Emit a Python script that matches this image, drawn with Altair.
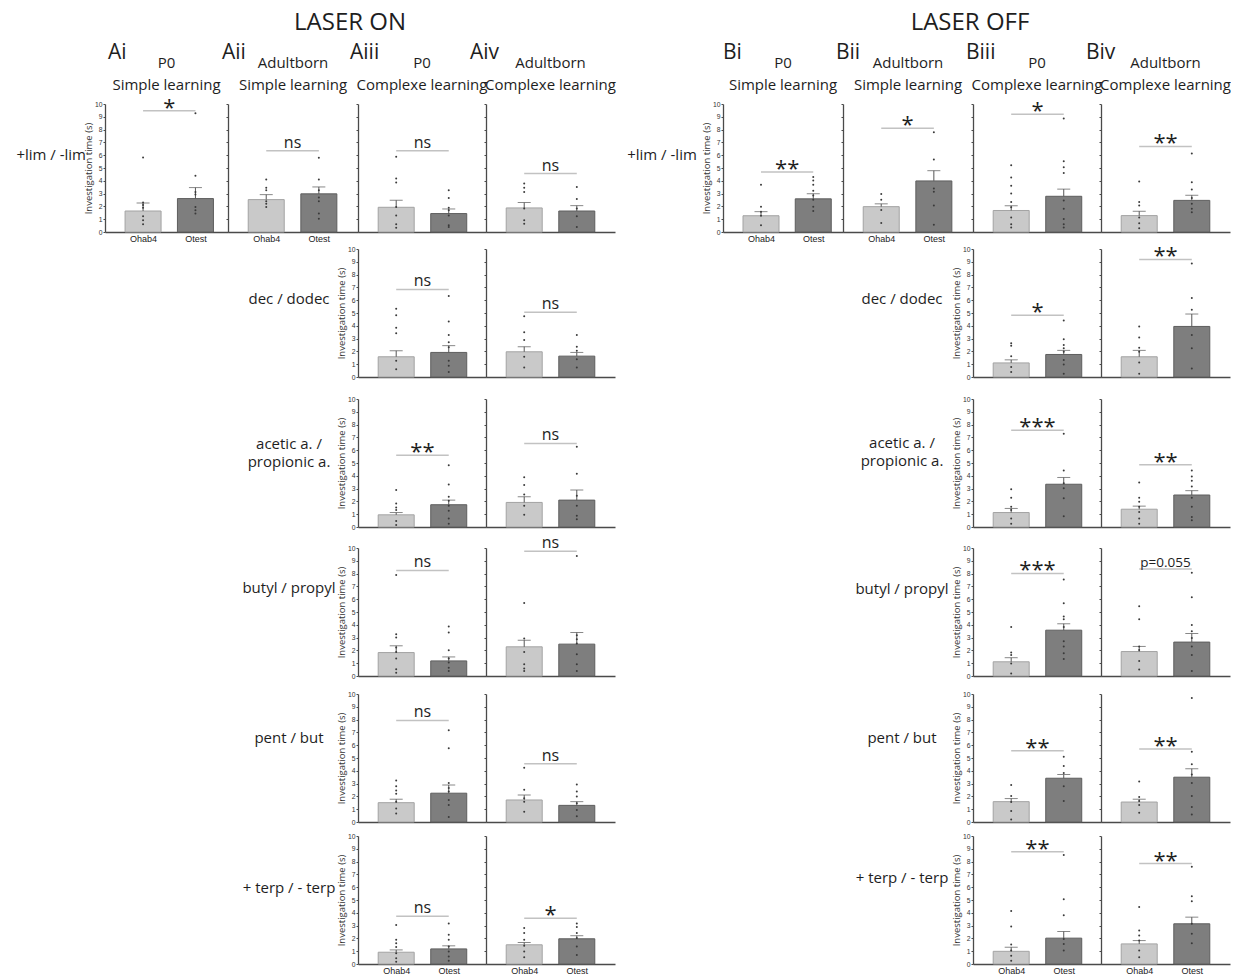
import altair as alt
import pandas as pd

# ---------------- data ----------------
groups = ["Ohab4", "Otest"]
columns = ["Ai", "Aii", "Aiii", "Aiv", "Bi", "Bii", "Biii", "Biv"]
cohorts = ["P0", "Adultborn", "P0", "Adultborn", "P0", "Adultborn", "P0", "Adultborn"]
tasks = ["Simple learning", "Simple learning", "Complexe learning", "Complexe learning",
         "Simple learning", "Simple learning", "Complexe learning", "Complexe learning"]
halves = ["LASER ON", "LASER OFF"]
odors = [["+lim / -lim"], ["dec / dodec"], ["acetic a. /", "propionic a."],
         ["butyl / propyl"], ["pent / but"], ["+ terp / - terp"]]
y_title = "Investigation time (s)"
N = None

# rows = odor pairs, columns = Ai, Aii, Aiii, Aiv, Bi, Bii, Biii, Biv
ohab4_mean = [
    [1.64, 2.53, 1.93, 1.88, 1.27, 1.98, 1.68, 1.28],
    [N, N, 1.58, 1.97, N, N, 1.10, 1.58],
    [N, N, 0.95, 1.92, N, N, 1.13, 1.39],
    [N, N, 1.83, 2.28, N, N, 1.11, 1.91],
    [N, N, 1.51, 1.72, N, N, 1.59, 1.56],
    [N, N, 0.92, 1.50, N, N, 0.99, 1.57],
]
ohab4_sem = [
    [0.63, 0.39, 0.55, 0.42, 0.32, 0.22, 0.37, 0.34],
    [N, N, 0.47, 0.40, N, N, 0.24, 0.50],
    [N, N, 0.18, 0.45, N, N, 0.32, 0.24],
    [N, N, 0.53, 0.52, N, N, 0.32, 0.40],
    [N, N, 0.27, 0.38, N, N, 0.24, 0.22],
    [N, N, 0.18, 0.18, N, N, 0.32, 0.26],
]
otest_mean = [
    [2.61, 2.98, 1.44, 1.64, 2.59, 3.99, 2.79, 2.47],
    [N, N, 1.92, 1.63, N, N, 1.76, 3.95],
    [N, N, 1.74, 2.10, N, N, 3.34, 2.50],
    [N, N, 1.18, 2.49, N, N, 3.58, 2.65],
    [N, N, 2.25, 1.30, N, N, 3.42, 3.50],
    [N, N, 1.18, 1.97, N, N, 2.02, 3.14],
]
otest_sem = [
    [0.86, 0.54, 0.36, 0.42, 0.40, 0.80, 0.56, 0.40],
    [N, N, 0.53, 0.29, N, N, 0.32, 0.97],
    [N, N, 0.36, 0.79, N, N, 0.53, 0.34],
    [N, N, 0.31, 0.91, N, N, 0.50, 0.67],
    [N, N, 0.64, 0.29, N, N, 0.29, 0.66],
    [N, N, 0.24, 0.24, N, N, 0.52, 0.52],
]
sig_label = [
    ["*", "ns", "ns", "ns", "**", "*", "*", "**"],
    [N, N, "ns", "ns", N, N, "*", "**"],
    [N, N, "**", "ns", N, N, "***", "**"],
    [N, N, "ns", "ns", N, N, "***", "p=0.055"],
    [N, N, "ns", "ns", N, N, "**", "**"],
    [N, N, "ns", "*", N, N, "**", "**"],
]
sig_y = [
    [9.48, 6.34, 6.34, 4.57, 4.68, 8.10, 9.20, 6.68],
    [N, N, 6.84, 5.05, N, N, 4.82, 9.18],
    [N, N, 5.60, 6.53, N, N, 7.55, 4.87],
    [N, N, 8.25, 9.74, N, N, 8.01, 8.36],
    [N, N, 7.93, 4.56, N, N, 5.57, 5.70],
    [N, N, 3.74, 3.58, N, N, 8.77, 7.85],
]
ohab4_dots = [
    [[5.82, 2.3, 2.1, 1.9, 1.23, 0.91, 0.6], [4.1, 3.45, 3.26, 2.4, 2.2, 1.96],
     [5.87, 4.18, 3.86, 1.96, 1.28, 0.6, 0.34], [3.79, 3.45, 3.13, 1.83, 0.91, 0.65],
     [3.7, 1.98, 1.59, 1.27, 0.53], [2.96, 2.51, 1.72, 0.71],
     [5.21, 4.26, 3.62, 3.0, 2.34, 1.94, 1.14, 0.61, 0.35], [3.94, 2.34, 2.07, 1.14, 0.69, 0.29]],
    [N, N, [5.34, 4.82, 3.84, 3.42, 1.26, 0.6], [4.74, 3.5, 2.89, 1.58, 0.74],
     N, N, [2.63, 2.45, 1.63, 0.79, 0.39], [3.95, 3.08, 2.29, 1.97, 1.13, 0.26]],
    [N, N, [2.89, 1.84, 1.53, 1.32, 0.47, 0.16], [3.89, 3.29, 2.53, 1.66, 0.95],
     N, N, [2.95, 2.29, 1.58, 1.32, 0.66, 0.26], [3.47, 2.29, 1.97, 1.58, 1.18, 0.66, 0.26]],
    [N, N, [7.9, 3.27, 3.01, 2.23, 1.88, 1.36, 0.52, 0.26], [5.71, 2.93, 1.88, 0.92, 0.58, 0.39],
     N, N, [3.82, 1.83, 1.64, 0.98, 0.19], [5.44, 4.43, 2.31, 2.04, 1.17, 0.5]],
    [N, N, [3.24, 2.79, 2.47, 2.2, 1.59, 1.06, 0.66], [4.24, 2.52, 1.86, 1.59, 0.8],
     N, N, [2.89, 2.04, 1.56, 0.85, 0.19], [3.16, 1.96, 1.64, 1.33, 0.72]],
    [N, N, [3.05, 1.89, 1.63, 1.32, 0.84, 0.45, 0.18], [2.82, 2.42, 1.89, 1.42, 0.97, 0.53],
     N, N, [4.14, 2.93, 1.52, 1.05, 0.65, 0.26], [4.45, 2.62, 2.23, 1.83, 1.05, 0.52]],
]
otest_dots = [
    [[9.27, 4.39, 3.13, 2.92, 1.96, 1.7, 1.44], [5.8, 4.1, 3.26, 2.69, 2.4, 1.44, 1.04],
     [3.26, 2.66, 1.9, 1.7, 1.28, 0.52, 0.39], [3.52, 2.58, 1.83, 1.23, 0.39],
     [4.29, 4.02, 3.7, 3.23, 2.86, 2.51, 1.98, 1.64], [7.8, 5.66, 3.4, 3.14, 2.07, 0.56],
     [8.86, 5.53, 5.05, 4.6, 2.47, 1.81, 1.01, 0.61, 0.35], [6.14, 3.88, 3.32, 2.66, 2.21, 1.81, 1.54]],
    [N, N, [6.32, 4.34, 3.29, 2.71, 2.32, 1.26, 0.87, 0.39], [3.29, 2.37, 2.05, 1.39, 0.74],
     N, N, [4.42, 2.95, 2.5, 2.24, 1.97, 1.32, 0.97, 0.26], [8.87, 6.18, 5.26, 3.29, 2.24, 0.66]],
    [N, N, [4.82, 3.32, 2.37, 2.05, 1.66, 1.26, 0.66, 0.26], [6.26, 4.16, 2.45, 1.66, 0.87, 0.6],
     N, N, [7.29, 4.42, 3.42, 3.03, 2.24, 0.84], [4.42, 3.95, 3.61, 3.16, 2.29, 1.58, 0.79, 0.53]],
    [N, N, [3.87, 3.4, 2.02, 1.36, 1.05, 0.65, 0.39], [9.37, 3.19, 2.88, 2.54, 1.7, 0.92, 0.39],
     N, N, [7.53, 5.68, 4.64, 4.43, 3.82, 2.71, 2.31, 1.78, 1.33], [8.06, 6.15, 3.98, 3.5, 2.97, 2.31, 1.64, 0.4]],
    [N, N, [7.16, 5.76, 3.05, 2.65, 2.39, 1.72, 1.33, 0.4], [2.92, 2.39, 1.99, 1.46, 0.93, 0.45],
     N, N, [5.09, 4.38, 3.82, 2.79, 1.64], [9.68, 5.49, 4.51, 3.71, 3.05, 2.04, 1.17, 0.58]],
    [N, N, [3.16, 2.29, 1.89, 1.37, 0.97, 0.58, 0.26], [3.16, 2.89, 2.42, 2.03, 1.37, 0.71],
     N, N, [8.51, 5.05, 3.8, 1.96, 1.57, 1.05], [7.59, 5.29, 4.9, 3.14, 2.36, 1.62]],
]

# ---------------- layout / style ----------------
GRID_W = [97, 123, 130, 128, 129, 108, 120, 130, 128, 129]
PANEL_COL = [1, 2, 3, 4, 6, 7, 8, 9]
PANEL_H = 128
HEADER_H = 96
GAPS = [17, 22, 21, 18, 14]
BAR_PX = 57.0          # pixels between the two bar centres
FIRST_PX = 36.0        # pixel offset of the first bar centre
FILL = ["#c9c9c9", "#7e7e7e"]
EDGE = ["#a3a3a3", "#5e5e5e"]
AX = "#4a4a4a"
TXT = "#1e1e1e"
FONT = "Open Sans"

dummy = pd.DataFrame({"k": [0]})


def blank(w, h):
    return alt.Chart(dummy).mark_point(opacity=0, size=1).encode(
        x=alt.value(w / 2), y=alt.value(h / 2)).properties(width=w, height=h)


def text_cell(w, h, items):
    layers = []
    for (t, x, y, size, align) in items:
        layers.append(alt.Chart(dummy).mark_text(
            text=t, fontSize=size, align=align, baseline="middle", font=FONT, color=TXT
        ).encode(x=alt.value(x), y=alt.value(y)))
    return alt.layer(*layers).properties(width=w, height=h)


def panel(r, j, w):
    show_y = (j in (0, 4)) if r == 0 else (j in (2, 6))
    show_x = (r == 0 and j in (0, 1, 4, 5)) or (r == 5 and j in (2, 3, 6, 7))
    m = [ohab4_mean[r][j], otest_mean[r][j]]
    s = [ohab4_sem[r][j], otest_sem[r][j]]
    d = [ohab4_dots[r][j], otest_dots[r][j]]
    bar_df = pd.DataFrame({"g": [1, 2], "grp": groups, "mean": m,
                           "top": [m[0] + s[0], m[1] + s[1]]})
    dot_df = pd.DataFrame({"g": [1] * len(d[0]) + [2] * len(d[1]), "v": d[0] + d[1]})
    lab = sig_label[r][j]
    sig_df = pd.DataFrame({"x1": [1], "x2": [2], "xm": [1.5], "y": [sig_y[r][j]], "t": [lab]})

    x0 = 1 - FIRST_PX / BAR_PX
    xs = alt.Scale(domain=[x0, x0 + w / BAR_PX], nice=False, zero=False)
    ys = alt.Scale(domain=[0, 10], nice=False)
    expr = "datum.value == 1 ? '%s' : '%s'" % (groups[0], groups[1])
    xaxis = alt.Axis(values=[1, 2], labelExpr=expr, grid=False, ticks=False, labels=show_x,
                     domainColor=AX, domainWidth=1.3, labelFontSize=9, labelFont="Liberation Sans",
                     labelColor="#222", labelPadding=2, title=None)
    yaxis = alt.Axis(values=list(range(11)), grid=False, labels=show_y, ticks=True, tickSize=2,
                     tickColor=AX, domainColor=AX, domainWidth=1.3, labelFontSize=6.8,
                     labelFont="Liberation Sans", labelColor="#333", labelPadding=1,
                     title=y_title if show_y else None, titleFont=FONT, titleFontSize=9.5,
                     titleFontWeight="normal", titleColor="#333", titlePadding=1)

    def X(f):
        return alt.X(f, scale=xs, axis=xaxis)

    def Y(f):
        return alt.Y(f, scale=ys, axis=yaxis)

    bars = alt.Chart(bar_df).mark_bar(orient="vertical", size=36, strokeWidth=1).encode(
        x=X("g:Q"), y=alt.Y("mean:Q", scale=ys, axis=yaxis, stack=None),
        color=alt.Color("grp:N", scale=alt.Scale(domain=groups, range=FILL), legend=None),
        stroke=alt.Stroke("grp:N", scale=alt.Scale(domain=groups, range=EDGE), legend=None))
    err = alt.Chart(bar_df).mark_rule(color="#555555", strokeWidth=1).encode(
        x=X("g:Q"), y=Y("mean:Q"), y2="top:Q")
    cap = alt.Chart(bar_df).mark_tick(orient="horizontal", size=13, thickness=1, color="#555555").encode(
        x=X("g:Q"), y=Y("top:Q"))
    dots = alt.Chart(dot_df).mark_circle(size=4, color="#3a3a3a", opacity=1).encode(
        x=X("g:Q"), y=Y("v:Q"))
    sline = alt.Chart(sig_df).mark_rule(color="#c2c2c2", strokeWidth=1.5).encode(
        x=X("x1:Q"), x2="x2:Q", y=Y("y:Q"))
    if lab.startswith("*"):
        stext = alt.Chart(sig_df).mark_text(font=FONT, fontSize=22, color=TXT, baseline="alphabetic", dy=4)
    elif lab.startswith("p"):
        stext = alt.Chart(sig_df).mark_text(font=FONT, fontSize=13.5, color=TXT, baseline="alphabetic", dy=-2)
    else:
        stext = alt.Chart(sig_df).mark_text(font=FONT, fontSize=16, color=TXT, baseline="alphabetic", dy=-3)
    stext = stext.encode(x=X("xm:Q"), y=Y("y:Q"), text="t:N")
    return alt.layer(bars, err, cap, dots, sline, stext).properties(width=w, height=PANEL_H)


cells = []
# header row
letter_dx = [3, -6, -8, -16, 0, -7, -7, -15]
for g, w in enumerate(GRID_W):
    if g in PANEL_COL:
        j = PANEL_COL.index(g)
        items = [(columns[j], letter_dx[j], 45, 21, "left"),
                 (cohorts[j], w / 2, 55, 15, "center"),
                 (tasks[j], w / 2, 77, 15, "center")]
        if g == 2:
            items.append((halves[0], 122, 15, 24, "center"))
        if g == 7:
            items.append((halves[1], 127, 15, 24, "center"))
        cells.append(text_cell(w, HEADER_H, items))
    else:
        cells.append(blank(w, HEADER_H))

label_y_left = [[51], [50], [45, 63], [40], [44], [52]]
label_y_right = [[51], [50], [44, 62], [41], [44], [42]]
for r in range(6):
    for g, w in enumerate(GRID_W):
        j = PANEL_COL.index(g) if g in PANEL_COL else None
        if j is not None and ohab4_mean[r][j] is not None:
            cells.append(panel(r, j, w))
        elif (r == 0 and g in (0, 5)) or (r > 0 and g in (2, 7)):
            left = g in (0, 2)
            ys_ = label_y_left[r] if left else label_y_right[r]
            if r == 0 and left:
                items = [(t, 78, yy, 15, "right") for t, yy in zip(odors[r], ys_)]
            else:
                cx = 47 if r == 0 else (61 if left else 59)
                items = [(t, cx, yy, 15, "center") for t, yy in zip(odors[r], ys_)]
            cells.append(text_cell(w, PANEL_H, items))
        else:
            cells.append(blank(w, PANEL_H))
    if r < 5:
        for g, w in enumerate(GRID_W):
            cells.append(blank(w, GAPS[r]))

chart = alt.concat(*cells, columns=10, spacing=0, bounds="flush", align="each").properties(
    padding=0).configure_view(stroke=None)

chart.save("out.html", embed_options={"renderer": "svg", "actions": False})
